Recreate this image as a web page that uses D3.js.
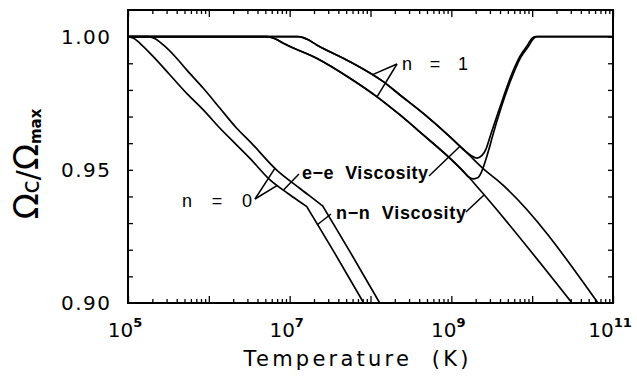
<!DOCTYPE html>
<html><head><meta charset="utf-8">
<script src="https://cdn.jsdelivr.net/npm/d3@7"></script>
<style>body{margin:0;background:#fff}svg{display:block}text{white-space:pre}</style>
</head><body><svg id="c" width="637" height="381"></svg>
<script>
// ---- data (log10 T, Omega_c/Omega_max) ----
const n0LowerLogT  = [5.000,5.070,5.148,5.313,5.520,5.726,5.932,6.138,6.345,6.509,6.757,6.979,7.190,7.211,7.230,7.548,7.916];
const n0LowerRatio = [1.0000,0.9994,0.9975,0.9925,0.9856,0.9787,0.9725,0.9656,0.9593,0.9543,0.9462,0.9411,0.93665,0.9362,0.93524,0.9192,0.9000];
const n0UpperLogT  = [5.000,5.250,5.330,5.437,5.602,5.726,5.932,6.138,6.345,6.509,6.840,7.128,7.390,7.409,7.430,7.747,8.114];
const n0UpperRatio = [1.0000,1.0000,0.9993,0.9969,0.9919,0.9875,0.9806,0.9731,0.9656,0.9606,0.9499,0.9430,0.93687,0.9364,0.93533,0.9192,0.9000];
const n1LowerLogT  = [5.000,6.716,6.820,6.921,7.334,7.746,8.077,8.365,8.653,8.984,9.169,9.355,10.493];
const n1LowerRatio = [1.0000,1.0000,0.9992,0.9975,0.9919,0.9844,0.9775,0.9706,0.9631,0.9543,0.9488,0.9424,0.9000];
const n1LowerBulkLogT  = [5.000,6.716,6.820,6.921,7.334,7.746,8.077,8.365,8.653,8.984,9.132,9.206,9.268,9.318,9.367,9.417,9.466,9.503,9.614,9.775,9.862,9.948,10.023,10.060,11.0];
const n1LowerBulkRatio = [1.0000,1.0000,0.9992,0.9975,0.9919,0.9844,0.9775,0.9706,0.9631,0.9543,0.9499,0.9475,0.9466,0.9469,0.9488,0.9529,0.9578,0.9619,0.9732,0.9867,0.9924,0.9961,0.9995,1.0000,1.0000];
const n1UpperLogT  = [5.000,7.107,7.210,7.334,7.746,8.158,8.365,8.653,8.984,9.169,9.441,9.565,10.814];
const n1UpperRatio = [1.0000,1.0000,0.9991,0.9969,0.9906,0.9831,0.9781,0.9712,0.9624,0.9571,0.9492,0.9462,0.9000];
const n1UpperBulkLogT  = [5.000,7.107,7.210,7.334,7.746,8.158,8.365,8.653,8.984,9.169,9.243,9.318,9.379,9.429,9.478,9.602,9.763,9.850,9.936,10.010,10.047,11.0];
const n1UpperBulkRatio = [1.0000,1.0000,0.9991,0.9969,0.9906,0.9831,0.9781,0.9712,0.9624,0.9571,0.9554,0.9544,0.9554,0.9578,0.9623,0.9736,0.9871,0.9927,0.9965,0.9997,1.0000,1.0000];

// tick labels
const yTickValues = [0.90,0.95,1.00];
const yTickLabels = ["0.90","0.95","1.00"];
const xLabelExps  = [5,7,9,11];
const xTitle = "Temperature  (K)";

// annotation pointers: [logT1, ratio1, logT2, ratio2]
const pointerLines = [
  [8.328,0.98973, 8.019,0.98563],
  [8.328,0.98973, 8.080,0.97738],
  [6.571,0.93904, 6.819,0.95061],
  [6.571,0.93904, 6.843,0.94408],
  [7.115,0.94843, 6.918,0.94227],
  [8.724,0.94768, 9.107,0.95887],
  [7.511,0.93341, 7.338,0.92928],
  [9.181,0.93416, 9.404,0.94055]
];
const noteTexts  = ["n  =  1","n  =  0","e\u2212e  Viscosity","n\u2212n  Viscosity"];
const noteLogT   = [8.390,6.534,7.153,7.573];
const noteRatio  = [0.98729,0.93604,0.94674,0.93172];

// ---- drawing ----
const m={l:128,r:613,t:10,b:303};
const x=d3.scaleLog().domain([1e5,1e11]).range([m.l,m.r]);
const y=d3.scaleLinear().domain([0.9,1.01]).range([m.b,m.t]);
const svg=d3.select('#c');
const FONT="'DejaVu Sans', sans-serif";
const AFONT="'Liberation Sans', Arial, sans-serif";

svg.append('defs').append('clipPath').attr('id','clip')
  .append('rect').attr('x',m.l).attr('y',m.t).attr('width',m.r-m.l).attr('height',m.b-m.t);

const line=d3.line().x(d=>x(Math.pow(10,d[0]))).y(d=>y(d[1])).curve(d3.curveMonotoneX);
const series=[
  [n0LowerLogT,n0LowerRatio],[n0UpperLogT,n0UpperRatio],
  [n1LowerLogT,n1LowerRatio],[n1LowerBulkLogT,n1LowerBulkRatio],
  [n1UpperLogT,n1UpperRatio],[n1UpperBulkLogT,n1UpperBulkRatio]
];
const g=svg.append('g').attr('clip-path','url(#clip)');
series.forEach(([lt,r])=>{
  g.append('path').datum(lt.map((v,i)=>[v,r[i]]))
   .attr('d',line).attr('fill','none').attr('stroke','#000').attr('stroke-width',1.7);
});

// pointer lines
svg.append('g').selectAll('line').data(pointerLines).join('line')
  .attr('x1',d=>x(Math.pow(10,d[0]))).attr('y1',d=>y(d[1]))
  .attr('x2',d=>x(Math.pow(10,d[2]))).attr('y2',d=>y(d[3]))
  .attr('stroke','#000').attr('stroke-width',1.5);

// notes
const noteAnchor=["start","end","start","start"];
const noteLen=[66,70,126,130];
const noteWeight=["normal","normal","bold","bold"];
noteTexts.forEach((t,i)=>{
  svg.append('text').attr('x',x(Math.pow(10,noteLogT[i]))).attr('y',y(noteRatio[i]))
    .attr('text-anchor',noteAnchor[i]).attr('font-family',AFONT).attr('font-size',18)
    .attr('font-weight',noteWeight[i]).attr('textLength',noteLen[i]).attr('lengthAdjust','spacing')
    .text(t);
});

// axes ticks (inward)
const majorT=d3.range(5,12).map(e=>Math.pow(10,e));
const minorT=[];
for(let e=5;e<11;e++) for(let k=2;k<10;k++) minorT.push(k*Math.pow(10,e));
const yMinor=d3.range(91,101).map(v=>v/100);
function style(sel){sel.select('.domain').remove();sel.selectAll('line').attr('stroke','#000').attr('stroke-width',1.3);sel.selectAll('text').remove();}
svg.append('g').attr('transform',`translate(0,${m.b})`).call(d3.axisBottom(x).tickValues(majorT).tickSize(-7).tickFormat('')).call(style);
svg.append('g').attr('transform',`translate(0,${m.b})`).call(d3.axisBottom(x).tickValues(minorT).tickSize(-4).tickFormat('')).call(style);
svg.append('g').attr('transform',`translate(0,${m.t})`).call(d3.axisTop(x).tickValues(majorT).tickSize(-7).tickFormat('')).call(style);
svg.append('g').attr('transform',`translate(0,${m.t})`).call(d3.axisTop(x).tickValues(minorT).tickSize(-4).tickFormat('')).call(style);
svg.append('g').attr('transform',`translate(${m.l},0)`).call(d3.axisLeft(y).tickValues(yMinor).tickSize(-5).tickFormat('')).call(style);
svg.append('g').attr('transform',`translate(${m.r},0)`).call(d3.axisRight(y).tickValues(yMinor).tickSize(-5).tickFormat('')).call(style);

// frame
svg.append('rect').attr('x',m.l).attr('y',m.t).attr('width',m.r-m.l).attr('height',m.b-m.t)
  .attr('fill','none').attr('stroke','#000').attr('stroke-width',2);

// y tick labels
yTickValues.forEach((v,i)=>{
  svg.append('text').attr('x',110).attr('y',y(v)+7).attr('text-anchor','end')
    .attr('font-family',FONT).attr('font-size',20).attr('textLength',49).attr('lengthAdjust','spacing')
    .text(yTickLabels[i]);
});
// x tick labels
xLabelExps.forEach(e=>{
  const t=svg.append('text').attr('x',x(Math.pow(10,e))-3).attr('y',337).attr('text-anchor','middle')
    .attr('font-family',FONT).attr('font-size',20);
  t.append('tspan').text('10');
  t.append('tspan').attr('dy',-10).attr('font-size',13).attr('font-weight','bold').text(String(e));
});
// x title
svg.append('text').attr('x',356).attr('y',366).attr('text-anchor','middle')
  .attr('font-family',FONT).attr('font-size',21).attr('textLength',225).attr('lengthAdjust','spacing')
  .text(xTitle);
// y title
const yt=svg.append('text').attr('transform','translate(38,164) rotate(-90)').attr('text-anchor','middle')
  .attr('font-family',FONT);
yt.append('tspan').attr('font-size',34).text('\u03A9');
yt.append('tspan').attr('font-size',24).attr('dy',1).text('c');
yt.append('tspan').attr('font-size',30).attr('dy',-1).text('/');
yt.append('tspan').attr('font-size',34).text('\u03A9');
yt.append('tspan').attr('font-size',15).attr('font-weight','bold').attr('dy',3).text('max');
</script></body></html>
